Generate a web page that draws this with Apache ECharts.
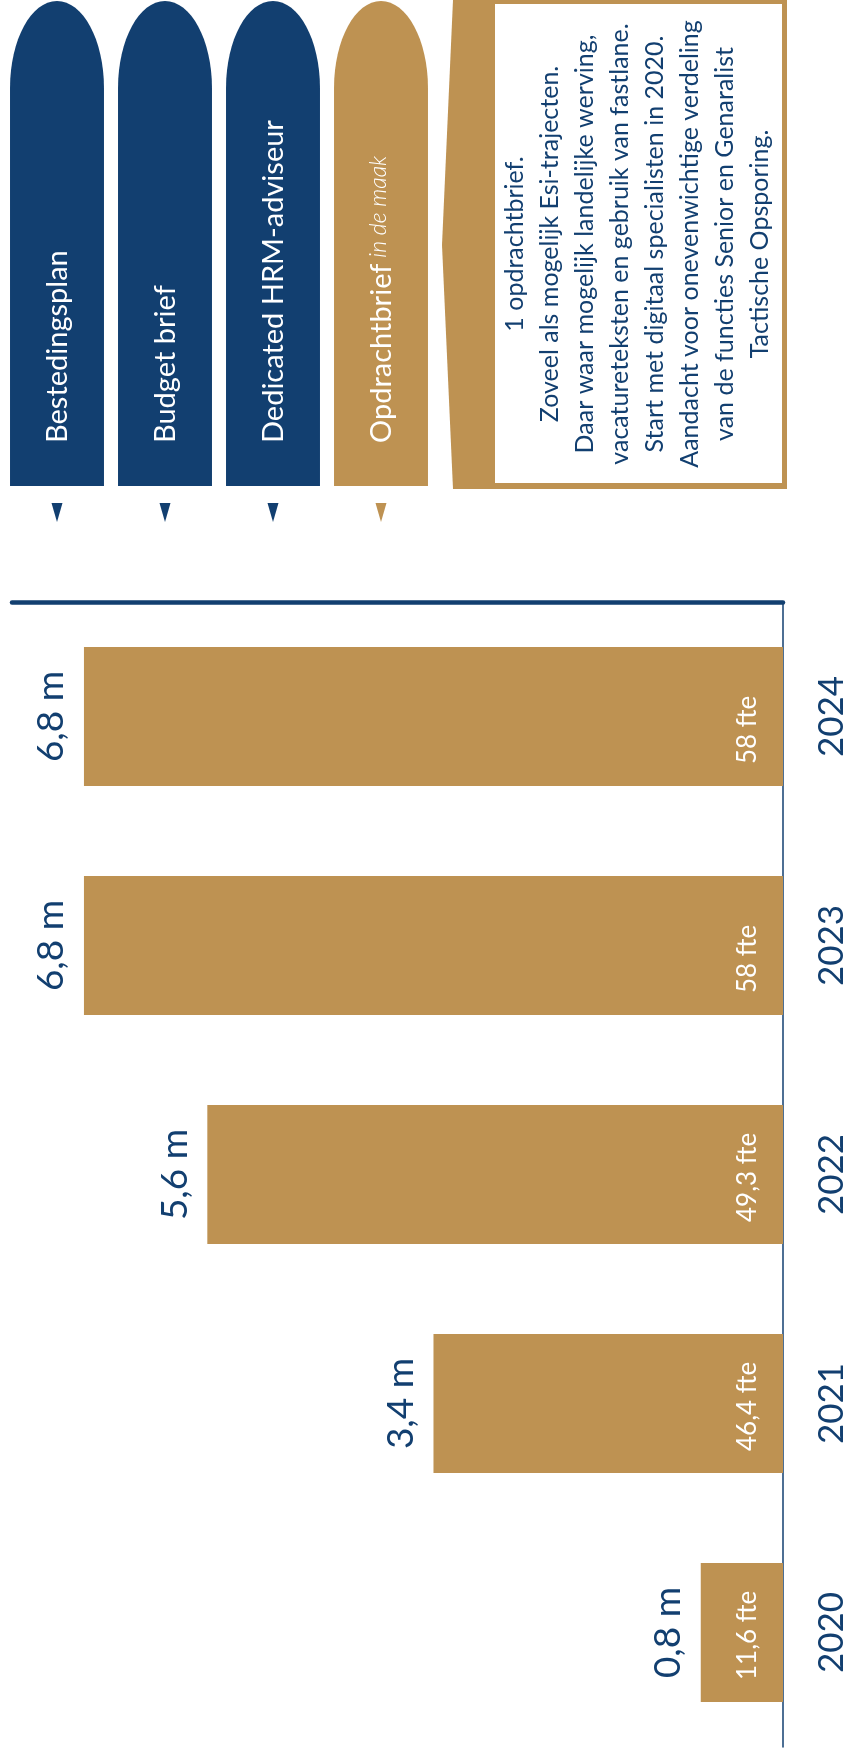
<!DOCTYPE html>
<html lang="nl">
<head>
    <meta charset="UTF-8">
    <title>Budget en fte per jaar</title>
    <script src="https://cdn.jsdelivr.net/npm/echarts@6/dist/echarts.min.js"></script>
    <style>
        html, body { margin: 0; padding: 0; background: #fff; }
        #chart { width: 847px; height: 1756px; }
    </style>
</head>
<body>
    <div id="chart"></div>
    <script>
        // data
        const years = ['2020', '2021', '2022', '2023', '2024'];
        const budget = [0.8, 3.4, 5.6, 6.8, 6.8];          // miljoen
        const fteLabels = ['11,6 fte', '46,4 fte', '49,3 fte', '58 fte', '58 fte'];
        const pillLabels = ['Bestedingsplan', 'Budget brief', 'Dedicated HRM-adviseur', 'Opdrachtbrief'];
        const pillNote = 'in de maak';
        const calloutLines = [
            '1 opdrachtbrief.',
            'Zoveel als mogelijk Esi-trajecten.',
            'Daar waar mogelijk landelijke werving,',
            'vacatureteksten en gebruik van fastlane.',
            'Start met digitaal specialisten in 2020.',
            'Aandacht voor onevenwichtige verdeling',
            'van de functies Senior en Genaralist',
            'Tactische Opsporing.'
        ];

        const BLUE = '#123f70';
        const GOLD = '#be9252';
        const FONT = 'Lato, "Open Sans", sans-serif';

        // tabbladen bovenaan
        function renderPill(params, api) {
            const i = api.value(0);
            const top = api.coord([i, 1]);
            const base = api.coord([i, 0]);
            const cx = top[0], yt = top[1], yb = base[1];
            const rx = api.size([1, 0])[0] * 0.435;
            const ry = 87, k = 0.5523;
            const x0 = cx - rx, x1 = cx + rx, yd = yt + ry;
            const last = i === pillLabels.length - 1;
            const color = last ? GOLD : BLUE;
            const d = 'M' + x0 + ' ' + yb + ' L' + x0 + ' ' + yd +
                ' C' + x0 + ' ' + (yd - ry * k) + ' ' + (cx - rx * k) + ' ' + yt + ' ' + cx + ' ' + yt +
                ' C' + (cx + rx * k) + ' ' + yt + ' ' + x1 + ' ' + (yd - ry * k) + ' ' + x1 + ' ' + yd +
                ' L' + x1 + ' ' + yb + ' Z';
            const text = last ? '{a|' + pillLabels[i] + '}{b| ' + pillNote + '}' : '{a|' + pillLabels[i] + '}';
            return {
                type: 'group',
                children: [
                    { type: 'path', shape: { pathData: d }, style: { fill: color } },
                    {
                        type: 'polygon',
                        shape: { points: [[cx - 5.5, yb + 17], [cx + 5.5, yb + 17], [cx, yb + 36]] },
                        style: { fill: color }
                    },
                    {
                        type: 'text',
                        x: cx + 1,
                        y: yb - 43,
                        rotation: Math.PI / 2,
                        style: {
                            text: text,
                            fill: '#fff',
                            align: 'left', textAlign: 'left',
                            verticalAlign: 'middle', textVerticalAlign: 'middle',
                            rich: {
                                a: { fontSize: 29, fontFamily: FONT, fontWeight: 'normal', fill: '#fff', textFill: '#fff' },
                                b: { fontSize: 23, fontFamily: FONT, fontStyle: 'italic', fontWeight: 300,
                                     fill: '#fff', textFill: '#fff', verticalAlign: 'top', textVerticalAlign: 'top' }
                            }
                        }
                    }
                ]
            };
        }

        const chart = echarts.init(document.getElementById('chart'), null, { renderer: 'canvas' });

        chart.setOption({
            animation: false,
            backgroundColor: '#fff',
            grid: [
                { left: 12, right: 64, top: 602, bottom: 9, outerBoundsMode: 'none' },
                { left: 3, top: 1, width: 432, height: 485, outerBoundsMode: 'none' }
            ],
            xAxis: [
                {
                    type: 'value',
                    gridIndex: 0,
                    position: 'top',
                    inverse: true,
                    min: 0,
                    max: 7.5,
                    axisLine: { show: true, lineStyle: { color: BLUE, width: 4.5 } },
                    axisTick: { show: false },
                    axisLabel: { show: false },
                    splitLine: { show: false }
                },
                { type: 'category', gridIndex: 1, data: pillLabels, show: false }
            ],
            yAxis: [
                {
                    type: 'category',
                    gridIndex: 0,
                    position: 'right',
                    data: years,
                    axisLine: { show: true, lineStyle: { color: BLUE, width: 1.5 } },
                    axisTick: { show: false },
                    axisLabel: {
                        rotate: 90,
                        margin: 31,
                        color: BLUE,
                        fontSize: 35,
                        fontFamily: FONT
                    }
                },
                { type: 'value', gridIndex: 1, min: 0, max: 1, show: false }
            ],
            series: [
                {
                    name: 'fte',
                    type: 'bar',
                    data: budget,
                    barWidth: 139,
                    itemStyle: { color: GOLD },
                    label: {
                        show: true,
                        position: 'insideBottomRight',
                        rotate: 90,
                        align: 'left',
                        verticalAlign: 'bottom',
                        distance: 22,
                        color: '#fff',
                        fontSize: 26,
                        fontFamily: FONT,
                        formatter: p => fteLabels[p.dataIndex]
                    }
                },
                {
                    name: 'budget',
                    type: 'bar',
                    data: budget,
                    barWidth: 139,
                    barGap: '-100%',
                    itemStyle: { color: 'rgba(0,0,0,0)' },
                    label: {
                        show: true,
                        position: 'left',
                        rotate: 90,
                        align: 'center',
                        verticalAlign: 'bottom',
                        distance: 14,
                        color: BLUE,
                        fontSize: 37,
                        fontFamily: FONT,
                        formatter: p => String(p.value).replace('.', ',') + ' m'
                    }
                },
                {
                    name: 'stappen',
                    type: 'custom',
                    xAxisIndex: 1,
                    yAxisIndex: 1,
                    data: pillLabels.map((l, i) => [i, 1]),
                    renderItem: renderPill,
                    silent: true
                }
            ],
            graphic: [
                {
                    type: 'polygon',
                    shape: { points: [[453, 0], [787, 0], [787, 489], [453, 489], [442, 245]] },
                    style: { fill: GOLD }
                },
                {
                    type: 'rect',
                    shape: { x: 495, y: 4, width: 287, height: 479 },
                    style: { fill: '#fff' }
                },
                {
                    type: 'text',
                    x: 637,
                    y: 244,
                    rotation: Math.PI / 2,
                    style: {
                        text: calloutLines.join('\n'),
                        fill: BLUE,
                        fontSize: 25,
                        fontFamily: FONT,
                        lineHeight: 35,
                        align: 'center', textAlign: 'center',
                        verticalAlign: 'middle', textVerticalAlign: 'middle'
                    }
                }
            ]
        });
    </script>
</body>
</html>
